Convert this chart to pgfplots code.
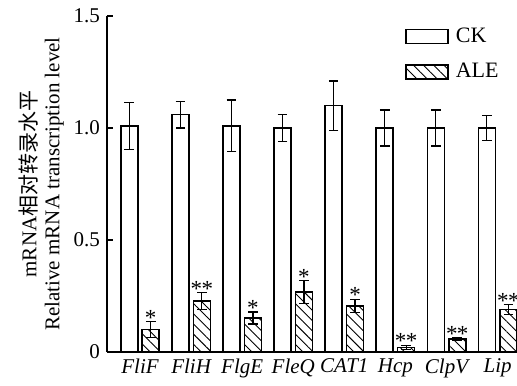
\documentclass[border=0pt]{standalone}
\usepackage{fontspec}
\setmainfont{Liberation Serif}
\newfontfamily\cjk{Noto Sans CJK SC}
\usepackage{pgfplots}
\pgfplotsset{compat=1.18}
\usetikzlibrary{patterns.meta}

% relative expression: x = group index, y = mean, e = standard error
\pgfplotstableread{
x     y      e
-0.21 1.01   0.105
0.79  1.06   0.060
1.79  1.01   0.115
2.79  1.00   0.060
3.79  1.10   0.110
4.79  1.00   0.080
5.79  1.00   0.080
6.79  1.00   0.055
}\ck
\pgfplotstableread{
x     y      e
0.21  0.100  0.035
1.21  0.228  0.038
2.21  0.152  0.027
3.21  0.268  0.050
4.21  0.205  0.030
5.21  0.020  0.010
6.21  0.058  0.005
7.21  0.190  0.022
}\ale
% significance marks, placed at the top of the ALE error bars
\pgfplotstableread{
x     y
0.21  0.135
2.21  0.179
3.21  0.318
4.21  0.235
}\single
\pgfplotstableread{
x     y
1.21  0.266
5.21  0.030
6.21  0.063
7.21  0.212
}\double

\begin{document}
\begin{tikzpicture}
\begin{axis}[
  name=ax,
  scale only axis,
  width=205pt, height=168pt,
  xmin=-0.646, xmax=7.38,
  ymin=0, ymax=1.5,
  axis x line*=bottom,
  axis y line*=left,
  axis line style={line width=0.8pt},
  xtick={0,...,7},
  xticklabels={FliF,FliH,FlgE,FleQ,CAT1,Hcp,ClpV,Lip},
  xticklabel style={font=\itshape\fontsize{10.5}{12}\selectfont},
  major x tick style={draw=none},
  ytick={0,0.5,1,1.5},
  yticklabels={0,0.5,1.0,1.5},
  yticklabel style={font=\fontsize{10.5}{12}\selectfont},
  /pgf/number format/assume math mode=true,
  tick align=inside,
  major tick length=3pt,
  tick style={line width=0.8pt, black},
  ylabel={mRNA{\cjk 相对转录水平}\\Relative mRNA transcription level},
  ylabel style={align=center, font=\fontsize{10.5}{11.5}\selectfont, yshift=-2pt},
  legend style={draw=none, fill=none, at={(0.712,0.99)}, anchor=north west,
    font=\fontsize{11}{12}\selectfont, row sep=5pt,
    legend cell align=left,
    nodes={inner xsep=3.5pt}},
  legend image code/.code={\draw[#1, line width=0.75pt] (0pt,-3.5pt) rectangle (21pt,3.5pt);},
  error bars/error bar style={line width=0.6pt, black},
  error bars/error mark options={rotate=90, mark size=2.4pt, line width=0.6pt, black},
]
\addplot[ybar, bar width=8.5pt, bar shift=0pt, draw=black, line width=0.75pt, fill=white,
  error bars/.cd, y dir=both, y explicit]
  table[x=x, y=y, y error=e]{\ck};
\addlegendentry{CK}
\addplot[ybar, bar width=8.5pt, bar shift=0pt, draw=black, line width=0.75pt,
  pattern={Lines[angle=-45, distance=3.6pt, line width=0.45pt]},
  error bars/.cd, y dir=both, y explicit]
  table[x=x, y=y, y error=e]{\ale};
\addlegendentry{ALE}
\addplot[forget plot, draw=none, mark=none, nodes near coords={*},
  nodes near coords style={font=\fontsize{11.5}{13}\selectfont, inner sep=0pt, anchor=south, yshift=-2pt}]
  table[x=x, y=y]{\single};
\addplot[forget plot, draw=none, mark=none, nodes near coords={*\kern-0.3pt*},
  nodes near coords style={font=\fontsize{11.5}{13}\selectfont, inner sep=0pt, anchor=south, yshift=-2pt}]
  table[x=x, y=y]{\double};
\end{axis}
\pgfresetboundingbox
\path[use as bounding box] (-53.5pt,-16.5pt) rectangle (205pt,176pt);
\end{tikzpicture}
\end{document}
